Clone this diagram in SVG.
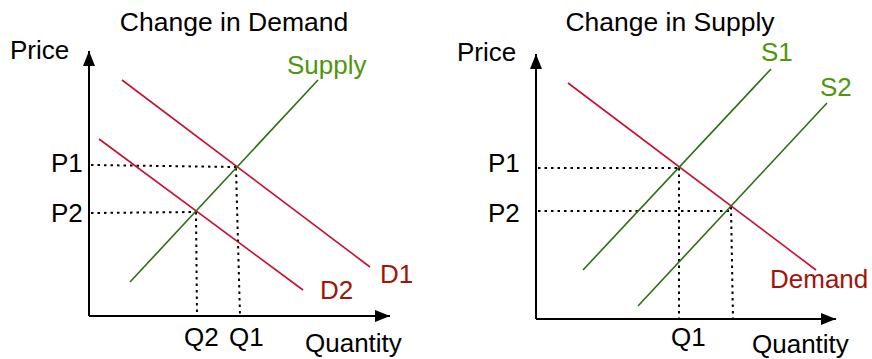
<svg xmlns="http://www.w3.org/2000/svg" width="872" height="359" viewBox="0 0 872 359">
<defs>
<style>
text{font-family:"Liberation Sans",Arial,sans-serif;font-size:26px;fill:#000}
.title{text-anchor:middle;font-size:26.5px}
.dtext{fill:#A31408}
.stext{fill:#4F960C}
.axis{stroke:#000;stroke-width:2;fill:none}
.dline{stroke:#C8102E;stroke-width:1.6;fill:none}
.sline{stroke:#2E6E12;stroke-width:1.6;fill:none}
.dot{stroke:#000;stroke-width:2;stroke-dasharray:2.5 4;fill:none}
</style>
<marker id="arr" markerWidth="16" markerHeight="12" refX="15" refY="6" orient="auto" markerUnits="userSpaceOnUse">
<path d="M0,0 L15,6 L0,12 Z" fill="#000"/>
</marker>
</defs>
<rect width="872" height="359" fill="#fff"/>

<g id="connectors">
<!-- left chart -->
<line class="axis" x1="89" y1="316" x2="89" y2="51" marker-end="url(#arr)"/>
<line class="axis" x1="89" y1="316" x2="390" y2="316" marker-end="url(#arr)"/>
<line class="dot" x1="91" y1="165" x2="236" y2="167"/>
<line class="dot" x1="236" y1="168" x2="240" y2="316"/>
<line class="dot" x1="91" y1="213" x2="196" y2="212"/>
<line class="dot" x1="196" y1="212" x2="197" y2="316"/>
<!-- right chart -->
<line class="axis" x1="536" y1="319" x2="536" y2="54" marker-end="url(#arr)"/>
<line class="axis" x1="536" y1="319" x2="836" y2="319" marker-end="url(#arr)"/>
<line class="dot" x1="538" y1="168" x2="679" y2="168"/>
<line class="dot" x1="679" y1="168" x2="679" y2="319"/>
<line class="dot" x1="538" y1="211" x2="730" y2="211"/>
<line class="dot" x1="731" y1="207" x2="733" y2="319"/>
</g>

<g id="curve-d1"><line class="dline" x1="122" y1="80" x2="370" y2="267"/></g>
<g id="curve-d2"><line class="dline" x1="99" y1="139" x2="303" y2="290"/></g>
<g id="curve-supply"><line class="sline" x1="130" y1="282" x2="318" y2="80"/></g>

<g id="curve-demand"><line class="dline" x1="568" y1="83" x2="816" y2="270"/></g>
<g id="curve-s1"><line class="sline" x1="583" y1="270" x2="771" y2="69"/></g>
<g id="curve-s2"><line class="sline" x1="638" y1="306" x2="827" y2="103"/></g>

<g id="labels-left">
<text class="title" x="234" y="31">Change in Demand</text>
<text x="10" y="59">Price</text>
<text class="stext" x="287" y="74">Supply</text>
<text x="51" y="172">P1</text>
<text x="51" y="222">P2</text>
<text x="184" y="346">Q2</text>
<text x="229" y="346">Q1</text>
<text x="305" y="352">Quantity</text>
<text class="dtext" x="380" y="283">D1</text>
<text class="dtext" x="320" y="299">D2</text>
</g>

<g id="labels-right">
<text class="title" x="670" y="31">Change in Supply</text>
<text x="457" y="61">Price</text>
<text class="stext" x="761" y="61">S1</text>
<text class="stext" x="820" y="96">S2</text>
<text x="488" y="172">P1</text>
<text x="488" y="222">P2</text>
<text x="671" y="346">Q1</text>
<text x="752" y="353">Quantity</text>
<text class="dtext" x="770" y="288">Demand</text>
</g>
</svg>
